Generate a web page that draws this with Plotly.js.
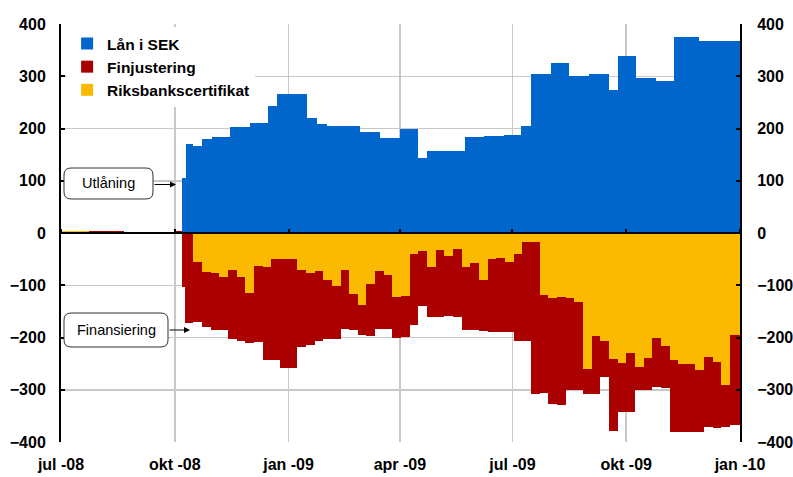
<!DOCTYPE html>
<html><head><meta charset="utf-8">
<script src="https://cdn.plot.ly/plotly-3.0.1.min.js"></script>
<style>html,body{margin:0;padding:0;background:#fff}</style>
</head><body><div id="chart" style="width:793px;height:477px"></div>
<script>
// ---- data (mdr kr) ----
const lanDates = ['2008-10-07','2008-10-10','2008-10-16','2008-10-23','2008-10-31','2008-11-15','2008-12-01','2008-12-15','2008-12-23',
  '2009-01-16','2009-01-24','2009-02-01','2009-02-28','2009-03-16','2009-04-01','2009-04-16','2009-04-23','2009-05-24','2009-06-08',
  '2009-06-24','2009-07-08','2009-07-16','2009-08-01','2009-08-16','2009-09-01','2009-09-17','2009-09-24','2009-10-09','2009-10-25',
  '2009-11-09','2009-11-29'];
const lanISEK = [105,171,166,179,183,202,210,244,266,221,208,204,194,181,200,143,156,183,185,187,204,305,326,300,305,273,338,296,290,376,368];

const finDates = ['2008-07-01','2008-07-10','2008-07-17','2008-07-24','2008-07-31','2008-08-07','2008-08-14','2008-08-21','2008-08-28',
  '2008-09-04','2008-09-11','2008-09-18','2008-09-25','2008-10-02','2008-10-07',
  '2008-10-09','2008-10-16','2008-10-23','2008-10-30','2008-11-06','2008-11-13','2008-11-20','2008-11-27','2008-12-04','2008-12-11',
  '2008-12-18','2008-12-25','2009-01-01','2009-01-08','2009-01-15','2009-01-22','2009-01-29','2009-02-05','2009-02-12','2009-02-19',
  '2009-02-26','2009-03-05','2009-03-12','2009-03-19','2009-03-26','2009-04-02','2009-04-09','2009-04-16','2009-04-23','2009-04-30',
  '2009-05-07','2009-05-14','2009-05-21','2009-05-28','2009-06-04','2009-06-11','2009-06-18','2009-06-25','2009-07-02','2009-07-09',
  '2009-07-16','2009-07-23','2009-07-30','2009-08-06','2009-08-13','2009-08-20','2009-08-27','2009-09-03','2009-09-10','2009-09-17',
  '2009-09-24','2009-10-01','2009-10-08','2009-10-15','2009-10-22','2009-10-29','2009-11-05','2009-11-12','2009-11-19','2009-11-26',
  '2009-12-03','2009-12-10','2009-12-17','2009-12-24','2009-12-31'];
const riksbankscertifikat = [3,3,3,0,0,0,0,2,2,2,2,0,0,0,0,
  0,-56,-75,-77,-85,-71,-85,-115,-64,-66,-50,-50,-50,-71,-76,-73,-90,-102,-71,-117,
  -138,-98,-73,-81,-123,-121,-41,-35,-66,-33,-44,-31,-66,-58,-89,-50,-47,-56,-41,-18,
  -18,-119,-125,-123,-125,-133,-260,-197,-207,-242,-249,-230,-257,-240,-200,-217,-244,-250,-250,-263,
  -238,-246,-290,-196,-196];
const finjustering = [0,0,0,4,4,4,4,0,0,0,0,0,0,3,-104,
  -172,-114,-105,-108,-100,-132,-121,-95,-145,-177,-193,-209,-209,-147,-139,-134,-113,-101,-113,-69,
  -58,-100,-111,-103,-77,-78,-136,-105,-94,-127,-114,-129,-120,-128,-99,-140,-143,-134,-165,-188,
  -291,-188,-203,-207,-176,-168,-49,-112,-69,-136,-93,-112,-43,-60,-94,-79,-136,-130,-130,-117,
  -134,-127,-81,-172,-172];
const periodEnd = '2010-01-01';
const tickDates = ['2008-07-01','2008-10-01','2009-01-01','2009-04-01','2009-07-01','2009-10-01','2010-01-01'];
const tickLabels = ['jul -08','okt -08','jan -09','apr -09','jul -09','okt -09','jan -10'];
const yTicks = [-400,-300,-200,-100,0,100,200,300,400];

// ---- helpers ----
const FONT = 'Liberation Sans, Arial, sans-serif';
function spans(dates){
  return dates.map((d,i)=> Date.parse(i < dates.length-1 ? dates[i+1] : periodEnd) - Date.parse(d));
}
const PL=61, PT=24, PW=679, PH=418;
const pX = v => (v-PL)/PW;
const pY = v => (PT+PH-v)/PH;
function roundedBox(x0,y0,x1,y1,r){
  const X=v=>pX(v).toFixed(5), Y=v=>pY(v).toFixed(5);
  return `M${X(x0+r)},${Y(y0)} L${X(x1-r)},${Y(y0)} Q${X(x1)},${Y(y0)} ${X(x1)},${Y(y0+r)} `+
         `L${X(x1)},${Y(y1-r)} Q${X(x1)},${Y(y1)} ${X(x1-r)},${Y(y1)} L${X(x0+r)},${Y(y1)} `+
         `Q${X(x0)},${Y(y1)} ${X(x0)},${Y(y1-r)} L${X(x0)},${Y(y0+r)} Q${X(x0)},${Y(y0)} ${X(x0+r)},${Y(y0)} Z`;
}

const traces = [
  {type:'bar', name:'Lån i SEK', x:lanDates, y:lanISEK, width:spans(lanDates), offset:0, xaxis:'x2', yaxis:'y2',
   marker:{color:'#0066cc', line:{width:0}}, legendrank:1, hoverinfo:'skip'},
  {type:'bar', name:'Riksbankscertifikat', x:finDates, y:riksbankscertifikat, width:spans(finDates), offset:0,
   marker:{color:'#fbba00', line:{width:0}}, legendrank:3, hoverinfo:'skip'},
  {type:'bar', name:'Finjustering', x:finDates, y:finjustering, width:spans(finDates), offset:0,
   marker:{color:'#aa0000', line:{width:0}}, legendrank:2, hoverinfo:'skip'}
];

const tickFont = {family:FONT, size:16, color:'black', weight:'bold'};
const layout = {
  width:793, height:477,
  margin:{l:PL, r:793-PL-PW, t:PT, b:477-PT-PH, pad:0},
  paper_bgcolor:'white', plot_bgcolor:'white',
  barmode:'relative', bargap:0,
  font:{family:FONT, color:'black'},
  showlegend:true,
  legend:{x:0.009, y:0.993, xanchor:'left', yanchor:'top', bgcolor:'white', borderwidth:0,
          font:{family:FONT, size:15.5, color:'black', weight:'bold'}},
  xaxis:{type:'date', range:['2008-07-01','2010-01-01'], tickmode:'array', tickvals:tickDates, ticktext:tickLabels,
         showgrid:true, gridcolor:'#c8c8c8', gridwidth:1.5, ticks:'', showline:false, zeroline:false,
         tickfont:tickFont, ticklabelstandoff:11, fixedrange:true},
  xaxis2:{type:'date', overlaying:'x', anchor:'free', position:0.5, side:'top',
          range:['2008-07-01','2010-01-01'], tickmode:'array', tickvals:tickDates,
          ticks:'outside', ticklen:4, tickwidth:2, tickcolor:'black', showticklabels:false,
          showgrid:false, zeroline:false, showline:false, layer:'above traces', fixedrange:true},
  yaxis:{range:[-400,400], tickmode:'array', tickvals:yTicks, showgrid:true, gridcolor:'#c8c8c8', gridwidth:1.5,
         zeroline:false, showline:true, linecolor:'black', linewidth:2, ticks:'inside', ticklen:4, tickwidth:2,
         tickcolor:'black', tickfont:tickFont, ticklabelstandoff:10, layer:'above traces', fixedrange:true},
  yaxis2:{overlaying:'y', side:'right', anchor:'x2', range:[-400,400], tickmode:'array', tickvals:yTicks,
          showgrid:false, zeroline:false, showline:true, linecolor:'black', linewidth:2, ticks:'inside', ticklen:4,
          tickwidth:2, tickcolor:'black', tickfont:tickFont, ticklabelstandoff:12, layer:'above traces', fixedrange:true},
  shapes:[
    {type:'line', xref:'paper', yref:'y', x0:0, x1:1, y0:0, y1:0, line:{color:'black', width:2}, layer:'above'},
    {type:'path', xref:'paper', yref:'paper', path:roundedBox(64,168,153,199,7), fillcolor:'white',
     line:{color:'#333', width:1}, layer:'above'},
    {type:'path', xref:'paper', yref:'paper', path:roundedBox(64,313,168,347,7), fillcolor:'white',
     line:{color:'#333', width:1}, layer:'above'}
  ],
  annotations:[
    {xref:'paper', yref:'paper', x:pX(108.5), y:pY(183.5), xanchor:'center', yanchor:'middle', text:'Utlåning', showarrow:false,
     font:{family:FONT, size:14.5, color:'black'}},
    {xref:'paper', yref:'paper', x:pX(116), y:pY(330), xanchor:'center', yanchor:'middle', text:'Finansiering', showarrow:false,
     font:{family:FONT, size:14.5, color:'black'}},
    {xref:'paper', yref:'paper', x:pX(176), y:pY(184.5), ax:-23, ay:0, text:'', showarrow:true,
     arrowhead:2, arrowsize:1, arrowwidth:1.2, arrowcolor:'black', standoff:0},
    {xref:'paper', yref:'paper', x:pX(190), y:pY(330), ax:-22, ay:0, text:'', showarrow:true,
     arrowhead:2, arrowsize:1, arrowwidth:1.2, arrowcolor:'black', standoff:0}
  ]
};
Plotly.newPlot('chart', traces, layout, {displayModeBar:false, staticPlot:true});
</script></body></html>
